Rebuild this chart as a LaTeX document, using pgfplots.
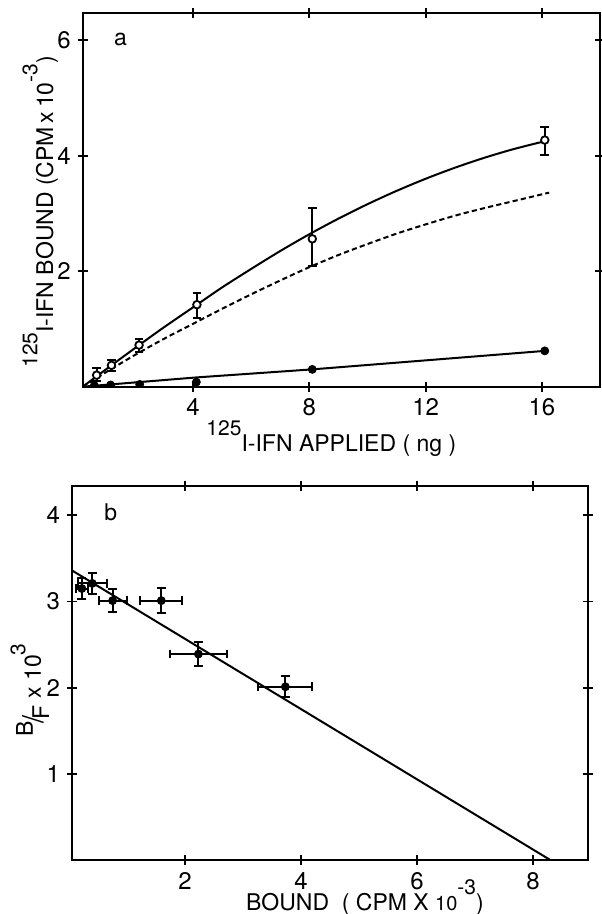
\documentclass[border=0pt]{standalone}
\usepackage{pgfplots}
\pgfplotsset{compat=1.18}
\usepackage{fontspec}
\setmainfont{TeX Gyre Heros}
\newcommand{\upr}[1]{\raisebox{0.68em}{\fontsize{10.5}{12}\selectfont #1}}

\begin{document}
\begin{tikzpicture}
\path[use as bounding box] (0,0) rectangle (300.5pt,-457pt);

\pgfplotsset{
  every axis/.append style={
    scale only axis,
    axis line style={line width=1pt},
    every tick/.style={line width=0.9pt, black},
    major tick length=5pt,
    tick align=center,
    /pgf/number format/assume math mode=true,
    tick label style={font=\fontsize{12}{14}\selectfont},
    label style={font=\fontsize{11.5}{14}\selectfont},
    clip marker paths=true,
  },
}

% ---------- panel a ----------
\begin{axis}[
  at={(41.35pt,-193.35pt)}, anchor=south west,
  width=258.65pt, height=186.85pt,
  xmin=0.2, xmax=18, ymin=0, ymax=6.47,
  xtick={4,8,12,16}, ytick={2,4,6},
  xlabel={\upr{125}I-IFN APPLIED ( ng )},
  ylabel={\upr{125}I-IFN BOUND (CPM\,x\,10\upr{-3})},
  xlabel style={at={(axis description cs:0.5,0)}, anchor=base, yshift=-32.2pt, xshift=-5pt},
  ylabel style={at={(axis description cs:-0.0572,0.468)}, anchor=base},
]
% fitted curve through open circles
\addplot[line width=1pt, smooth] coordinates {
  (0.2,0) (1.19,0.37) (2.14,0.72) (3,1.03) (4.13,1.42) (5,1.72) (6,2.04)
  (7,2.35) (8,2.64) (9,2.91) (10,3.16) (11,3.39) (12,3.60) (13,3.79)
  (14,3.96) (15,4.11) (16.1,4.25)
};
% dashed curve
\addplot[line width=1pt, smooth, dash pattern=on 2.6pt off 1.6pt] coordinates {
  (0.2,0) (1,0.25) (2,0.55) (3,0.83) (4,1.09) (5,1.35) (6,1.60) (7,1.84)
  (8,2.07) (9,2.28) (10,2.47) (11,2.65) (12,2.81) (13,2.96) (14,3.09)
  (15,3.21) (16.25,3.36)
};
% line through filled circles
\addplot[line width=1pt] coordinates {
  (0.2,0) (4.1,0.16) (8.1,0.30) (16.1,0.62)
};
\addplot[only marks, mark=*, mark size=2pt] coordinates {
  (0.6,0.02) (1.16,0.03) (2.16,0.04) (4.11,0.08) (8.1,0.30) (16.1,0.62)
};
% open circles with error bars
\addplot[only marks, mark=*, mark size=1.9pt,
  mark options={fill=white, line width=0.9pt},
  error bars/.cd, y dir=both, y explicit,
  error bar style={line width=1pt},
  error mark options={rotate=90, line width=1pt, mark size=2.2pt}]
coordinates {
  (0.68,0.20) += (0,0.13) -= (0,0.10)
  (1.19,0.37) += (0,0.10) -= (0,0.10)
  (2.14,0.72) += (0,0.10) -= (0,0.12)
  (4.13,1.42) += (0,0.21) -= (0,0.23)
  (8.1,2.56)  += (0,0.53) -= (0,0.47)
  (16.1,4.27) += (0,0.23) -= (0,0.26)
};
\node[font=\fontsize{11.5}{14}\selectfont] at (axis cs:1.5,6.02) {a};
\end{axis}

% ---------- panel b ----------
\begin{axis}[
  at={(36pt,-430pt)}, anchor=south west,
  width=258pt, height=187pt,
  xmin=0.05, xmax=8.95, ymin=0, ymax=4.34,
  xtick={2,4,6,8}, ytick={1,2,3,4},
  xlabel={BOUND\ \ ( CPM X {\fontsize{10}{12}\selectfont 10}\upr{-3})},
  ylabel={\raisebox{0.35em}{B}\kern-0.1em\raisebox{-0.1em}{\scalebox{1.25}{/}}\kern-0.15em\raisebox{-0.35em}{F}\ x\ 10\upr{3}},
  xlabel style={at={(axis description cs:0.5,0)}, anchor=base, yshift=-25pt, xshift=17.5pt},
  ylabel style={at={(axis description cs:-0.0601,0.4545)}, anchor=base},
]
\addplot[line width=1pt] coordinates {(0.05,3.36) (8.30,0)};
\addplot[only marks, mark=*, mark size=2pt,
  error bars/.cd, x dir=both, x explicit, y dir=both, y explicit,
  error bar style={line width=1pt},
  error mark options={rotate=90, line width=1pt, mark size=2.2pt}]
coordinates {
  (0.22,3.15) +- (0.10,0.12)
  (0.40,3.21) +- (0.25,0.125)
  (0.75,3.01) +- (0.24,0.13)
  (1.59,3.01) +- (0.365,0.145)
  (2.23,2.39) +- (0.49,0.14)
  (3.73,2.01) +- (0.465,0.12)
};
\node[font=\fontsize{11.5}{14}\selectfont] at (axis cs:0.72,4.03) {b};
\end{axis}
\end{tikzpicture}
\end{document}
